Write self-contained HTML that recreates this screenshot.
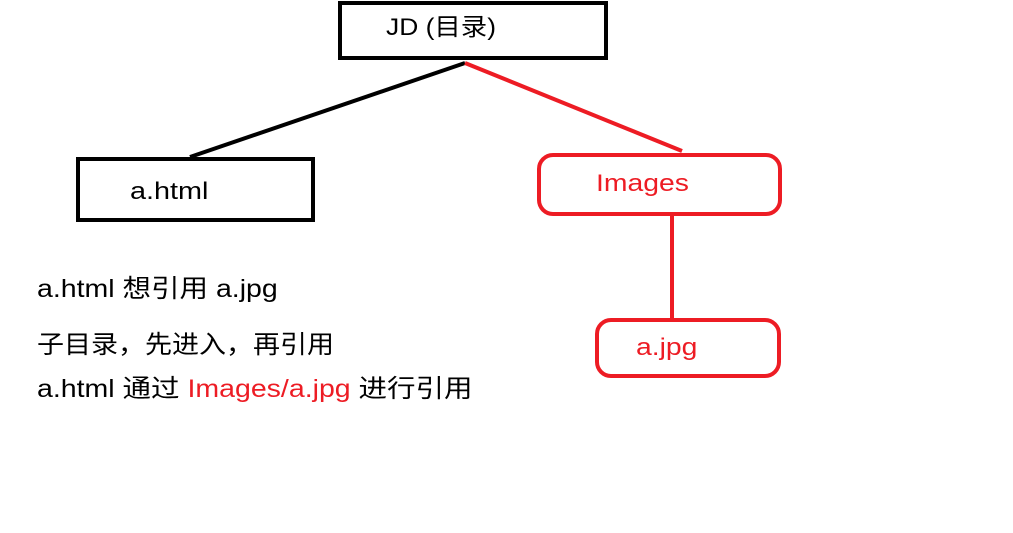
<!DOCTYPE html>
<html><head><meta charset="utf-8"><style>
body{margin:0;width:1013px;height:533px;background:#fff;overflow:hidden;position:relative;font-family:"Liberation Sans","Noto Sans CJK SC",sans-serif}
.t{position:absolute;font-size:25px;line-height:30px;white-space:nowrap;color:#000;transform:scaleX(1.14);transform-origin:0 50%}
.r{color:#ed1c24}
</style></head><body>
<svg width="1013" height="533" style="position:absolute;left:0;top:0">
<rect x="340" y="3" width="266" height="55" fill="none" stroke="#000" stroke-width="4"/>
<rect x="78" y="159" width="235" height="61" fill="none" stroke="#000" stroke-width="4"/>
<line x1="465" y1="63" x2="190" y2="157" stroke="#000" stroke-width="4"/>
<line x1="465" y1="63" x2="682" y2="151" stroke="#ed1c24" stroke-width="4"/>
<rect x="539" y="155" width="241" height="59" rx="14" fill="none" stroke="#ed1c24" stroke-width="4"/>
<line x1="672" y1="214" x2="672" y2="319" stroke="#ed1c24" stroke-width="4"/>
<rect x="597" y="320" width="182" height="56" rx="14" fill="none" stroke="#ed1c24" stroke-width="4"/>
</svg>
<div class="t" style="left:386px;top:13px;font-size:24px;transform:scaleX(1.1)">JD (目录)</div>
<div class="t" style="left:130px;top:177px;font-size:24px;transform:scaleX(1.2)">a.html</div>
<div class="t r" style="left:596px;top:169px;font-size:24px;transform:scaleX(1.18)">Images</div>
<div class="t r" style="left:636px;top:333px;font-size:24px;transform:scaleX(1.18)">a.jpg</div>
<div class="t" style="left:37px;top:274px">a.html 想引用 a.jpg</div>
<div class="t" style="left:37px;top:330px;transform:scaleX(1.08)">子目录，先进入，再引用</div>
<div class="t" style="left:37px;top:374px">a.html 通过 <span class="r">Images/a.jpg</span> 进行引用</div>
</body></html>
